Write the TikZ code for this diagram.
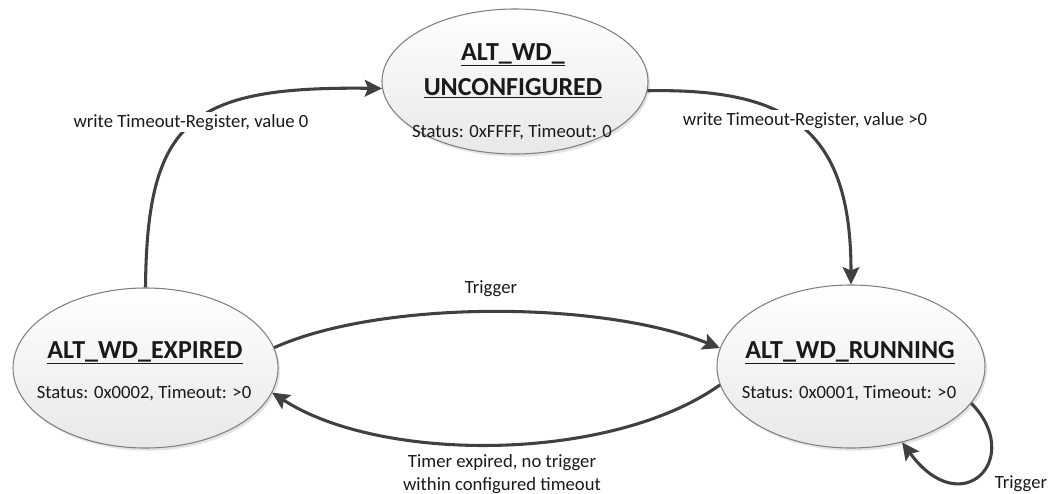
\documentclass[tikz,border=0pt]{standalone}
\usepackage{fontspec}
\setmainfont{Carlito}
\usetikzlibrary{shapes.geometric,arrows.meta,shadows}
\definecolor{edgec}{HTML}{404040}
\definecolor{borderc}{HTML}{808080}
\definecolor{txtc}{HTML}{1A1A1A}
\begin{document}
\begin{tikzpicture}[x=0.75pt,y=-0.75pt,
  state/.style={ellipse, draw=borderc, line width=0.8pt, top color=white, bottom color=black!9,
     drop shadow={shadow xshift=1.5pt, shadow yshift=-2pt, opacity=0.22}, inner sep=0pt},
  title/.style={anchor=base, font=\fontsize{19.5}{23}\selectfont\bfseries, text=txtc, inner sep=0pt},
  info/.style={anchor=base, font=\fontsize{14}{17.25}\selectfont, text=txtc, inner sep=0pt},
  elabel/.style={anchor=base, font=\fontsize{14}{17.25}\selectfont, text=txtc, fill=white, inner sep=1.5pt, align=center},
  trans/.style={draw=edgec, line width=2.3pt, -{Stealth[length=13pt,width=12.5pt,inset=2.5pt]}}
]
\useasboundingbox (0,0) rectangle (1057,493);

% states
\node[state, minimum width=266*0.75pt, minimum height=145*0.75pt] (unc) at (515,81.5) {};
\node[state, minimum width=265*0.75pt, minimum height=160*0.75pt] (exp) at (145.5,368) {};
\node[state, minimum width=268*0.75pt, minimum height=163*0.75pt] (run) at (851,366.5) {};

% state texts
\node[title] (uncA) at (513,60) {\underline{ALT\_WD\_}};
\node[title] (uncB) at (513,95) {\underline{UNCONFIGURED}};
\node[info]  (uncS) at (512,137) {Status: 0xFFFF, Timeout: 0};
\node[title] (expA) at (145,358) {\underline{ALT\_WD\_EXPIRED}};
\node[info]  (expS) at (144,398) {Status: 0x0002, Timeout: >0};
\node[title] (runA) at (850,358) {\underline{ALT\_WD\_RUNNING}};
\node[info]  (runS) at (849,398) {Status: 0x0001, Timeout: >0};

% transitions
\draw[trans] (exp.north) .. controls (147,120) and (190,86) .. (unc.183);
\draw[trans] (unc.-4) .. controls (790,88) and (851,130) .. (run.north);
\draw[trans] (exp.9) .. controls (380,300) and (600,300) .. (run.172);
\draw[trans] (run.188) .. controls (610,463) and (380,463) .. (exp.349);
\draw[trans] (run.-17) .. controls (1025,458) and (962,524) .. (run.-56);

% transition labels
\node[elabel] (l1) at (191,127) {write Timeout-Register, value 0};
\node[elabel] (l2) at (805,125) {write Timeout-Register, value >0};
\node[elabel] (l3) at (491,293) {Trigger};
\node[elabel] (l4) at (502,490) {Timer expired, no trigger\\within configured timeout};
\node[elabel] (l5) at (1021,488) {Trigger};
\end{tikzpicture}
\end{document}
